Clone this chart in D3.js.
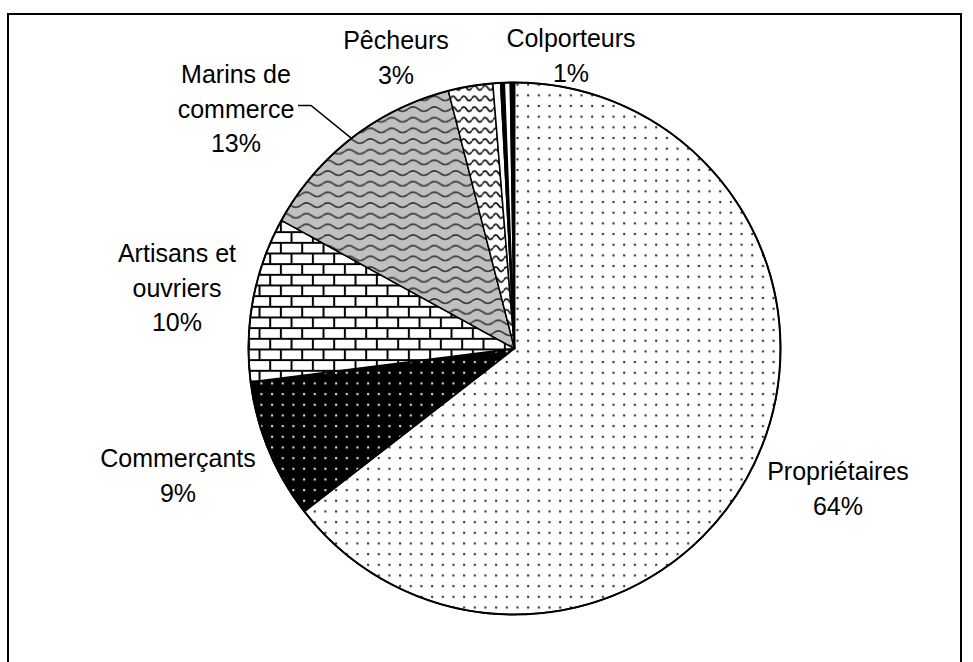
<!DOCTYPE html>
<html>
<head>
<meta charset="utf-8">
<script src="https://cdn.jsdelivr.net/npm/d3@7"></script>
<style>
  body { margin: 0; background: #fff; }
  text { font-family: "Liberation Sans", Arial, sans-serif; font-size: 25px; fill: #000; }
</style>
</head>
<body>
<svg id="chart" width="973" height="662"></svg>
<script>
// data (share of each group, clockwise from 12 o'clock)
const categories = ["Propriétaires", "Commerçants", "Artisans et ouvriers", "Marins de commerce", "Pêcheurs", "Colporteurs", "", "", ""];
const shares = [64.5, 8.5, 10.0, 13.0, 2.7, 0.47, 0.22, 0.36, 0.25];
const pctLabels = ["64%", "9%", "10%", "13%", "3%", "1%"];
const nameLines = [["Propriétaires"], ["Commerçants"], ["Artisans et", "ouvriers"], ["Marins de", "commerce"], ["Pêcheurs"], ["Colporteurs"]];

const W = 973, H = 662;
const CX = 514.5, CY = 348.5, R = 266;
const LINE = 34.5;

// fills per slice
const fills = ["url(#dots)", "url(#dotsInv)", "url(#brick)", "url(#waveGray)", "url(#wave)", "#fff", "#000", "#fff", "#000"];

// where each label block sits (center x, first line middle y)
const labelAt = [[838, 471], [178, 458], [177, 253], [236, 74], [396, 40], [571, 38]];

const svg = d3.select('#chart');
const defs = svg.append('defs');

// small dots on white
const p1 = defs.append('pattern').attr('id', 'dots')
  .attr('patternUnits', 'userSpaceOnUse').attr('width', 10.67).attr('height', 10.67);
p1.append('rect').attr('width', 10.67).attr('height', 10.67).attr('fill', '#fff');
p1.append('circle').attr('cx', 3).attr('cy', 3).attr('r', 1.2).attr('fill', '#333');

// white dots on black
const p2 = defs.append('pattern').attr('id', 'dotsInv')
  .attr('patternUnits', 'userSpaceOnUse').attr('width', 10.67).attr('height', 10.67);
p2.append('rect').attr('width', 10.67).attr('height', 10.67).attr('fill', '#000');
p2.append('circle').attr('cx', 3).attr('cy', 3).attr('r', 1.2).attr('fill', '#ddd');

// bricks
const p3 = defs.append('pattern').attr('id', 'brick')
  .attr('patternUnits', 'userSpaceOnUse').attr('width', 21.33).attr('height', 21.33);
p3.append('rect').attr('width', 21.33).attr('height', 21.33).attr('fill', '#fff');
p3.append('path')
  .attr('d', 'M0,1H21.33M0,11.67H21.33M1,1V11.67M11.67,11.67V21.33')
  .attr('stroke', '#000').attr('stroke-width', 2).attr('fill', 'none');

// wave on grey
const p4 = defs.append('pattern').attr('id', 'waveGray')
  .attr('patternUnits', 'userSpaceOnUse').attr('width', 21.33).attr('height', 10.67);
p4.append('rect').attr('width', 21.33).attr('height', 10.67).attr('fill', '#c0c0c0');
p4.append('path')
  .attr('d', 'M0,6 Q5.33,1.5 10.67,6 T21.33,6')
  .attr('stroke', '#333').attr('stroke-width', 1.6).attr('fill', 'none');

// wave on white
const p5 = defs.append('pattern').attr('id', 'wave')
  .attr('patternUnits', 'userSpaceOnUse').attr('width', 10.67).attr('height', 10.67);
p5.append('rect').attr('width', 10.67).attr('height', 10.67).attr('fill', '#fff');
p5.append('path')
  .attr('d', 'M0,6 Q2.67,1.5 5.33,6 T10.67,6')
  .attr('stroke', '#111').attr('stroke-width', 1.8).attr('fill', 'none');

// outer frame
svg.append('rect')
  .attr('x', 8).attr('y', 14).attr('width', 953).attr('height', 700)
  .attr('fill', 'none').attr('stroke', '#000').attr('stroke-width', 2);

const pie = d3.pie().sort(null).value(d => d);
const arcs = pie(shares);
const arc = d3.arc().innerRadius(0).outerRadius(R);

const g = svg.append('g').attr('transform', 'translate(' + CX + ',' + CY + ')');

g.selectAll('path.slice')
  .data(arcs)
  .enter().append('path')
  .attr('class', 'slice')
  .attr('d', arc)
  .attr('fill', (d, i) => fills[i])
  .attr('stroke', '#000')
  .attr('stroke-width', 1.5)
  .attr('stroke-linejoin', 'round');

g.append('circle').attr('r', R).attr('fill', 'none').attr('stroke', '#000').attr('stroke-width', 2);

// labels
nameLines.forEach((lines, i) => {
  const [lx, ly] = labelAt[i];
  const t = svg.append('text').attr('text-anchor', 'middle');
  lines.concat([pctLabels[i]]).forEach((s, k) => {
    t.append('tspan').attr('x', lx).attr('y', ly + 9 + k * LINE).text(s);
  });
});

// leader line for Marins de commerce
const mar = arcs[3];
const mid = (mar.startAngle + mar.endAngle) / 2;
const ex = CX + R * Math.sin(mid), ey = CY - R * Math.cos(mid);
const commerceEnd = labelAt[3][0] + 62;
svg.append('path')
  .attr('d', 'M' + commerceEnd + ',' + (labelAt[3][1] + LINE - 3) + 'H' + (commerceEnd + 13) + 'L' + ex + ',' + ey)
  .attr('fill', 'none').attr('stroke', '#000').attr('stroke-width', 1.5);
</script>
</body>
</html>
